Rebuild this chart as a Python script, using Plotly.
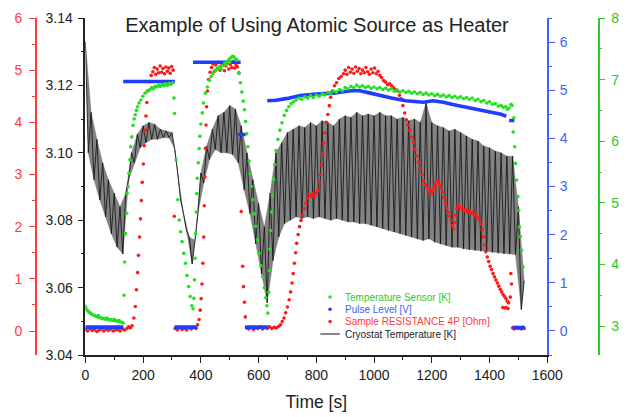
import plotly.graph_objects as go

# ---------------- data ----------------
# Cryostat temperature [K]: the signal oscillates quickly; upper and lower turning points
cryo_hi_time = list(range(0, 1521, 20))
cryo_hi = [3.133, 3.112, 3.104, 3.097, 3.092, 3.088, 3.084, 3.088, 3.100, 3.1055,
           3.108, 3.109, 3.1085, 3.107, 3.1065, 3.106, 3.094, 3.082, 3.075, 3.074,
           3.094, 3.102, 3.107, 3.111, 3.112, 3.114, 3.113, 3.108, 3.100, 3.092,
           3.085, 3.078,
           3.088, 3.100, 3.103, 3.106, 3.107, 3.108, 3.1075, 3.109, 3.108, 3.1095,
           3.109, 3.108, 3.110, 3.111, 3.1105, 3.112, 3.111, 3.1115, 3.111, 3.112,
           3.111, 3.111, 3.110, 3.1105, 3.1095, 3.110, 3.109, 3.1148, 3.109, 3.108,
           3.1075, 3.1065, 3.107, 3.106, 3.105, 3.104, 3.1035, 3.102, 3.1015, 3.1005,
           3.100, 3.099, 3.099, 3.084, 3.062]
cryo_lo_time = list(range(10, 1511, 20))
cryo_lo = [3.100, 3.092, 3.086, 3.081, 3.076, 3.072, 3.070, 3.092, 3.097, 3.1015,
           3.103, 3.104, 3.104, 3.1045, 3.1045, 3.101, 3.086, 3.077, 3.067, 3.082,
           3.091, 3.098, 3.101, 3.100, 3.100, 3.0995, 3.097, 3.089, 3.082, 3.073,
           3.064, 3.0555,
           3.068, 3.075, 3.079, 3.080, 3.081, 3.0805, 3.081, 3.0805, 3.081, 3.0805,
           3.080, 3.0805, 3.080, 3.0795, 3.0795, 3.079, 3.079, 3.0785, 3.078, 3.0775,
           3.077, 3.0765, 3.076, 3.0755, 3.075, 3.0745, 3.074, 3.0745, 3.0735, 3.073,
           3.0725, 3.072, 3.072, 3.0715, 3.0712, 3.071, 3.0708, 3.0706, 3.0704, 3.0702,
           3.070, 3.070, 3.0698, 3.0535]

# Sample resistance 4P [Ohm]
res_time = [0, 8, 16, 24, 32, 40, 48, 56, 64, 72, 80, 88, 96, 104, 112, 120, 128, 136, 144, 150, 156, 162,
            168, 173, 177, 181, 184, 188, 191, 194, 197, 201, 204, 207, 210, 213, 217, 222, 228,
            234, 239, 244, 249, 254, 259, 264, 269, 274, 279, 284, 289, 294, 299, 304, 308,
            311, 319, 327, 335, 343, 351, 359, 367, 375, 383, 389,
            394, 398, 401, 404, 407, 410, 412, 414, 416, 418, 420, 423, 427, 432,
            437, 442, 447, 452, 457, 462, 467, 472, 477, 482, 487, 492, 497, 502, 507, 512, 517, 522, 527, 532,
            540, 545, 548, 551, 554,
            558, 566, 574, 582, 590, 598, 606, 614, 622, 630, 638, 646, 654, 662, 670, 676,
            682, 688, 694, 700, 706, 711, 716, 720, 724, 728, 732, 737, 742, 747, 752, 758, 764, 770, 776, 782,
            788, 794, 800, 806, 810, 814, 818, 822, 826, 830, 835, 840, 845, 850, 856, 863, 870, 878, 886, 894,
            900, 906, 912, 918, 924, 930, 936, 942, 948, 954, 960, 966, 972, 978, 984, 990, 996, 1002, 1008, 1014, 1020, 1026,
            1033, 1040, 1047, 1054, 1061, 1068, 1075, 1082, 1088, 1094,
            1100, 1106, 1112, 1118, 1124, 1130, 1136, 1142, 1148, 1154,
            1160, 1166, 1172, 1178, 1184, 1190, 1196, 1200, 1204, 1208,
            1213, 1218, 1222, 1227, 1232, 1237, 1242, 1247, 1252, 1257,
            1262, 1267, 1271, 1275, 1279, 1283, 1287, 1291, 1296, 1301,
            1306, 1312, 1318, 1324, 1330, 1336, 1342, 1348, 1354, 1360,
            1365, 1370, 1375, 1379, 1383, 1387, 1392, 1397, 1402, 1407,
            1412, 1417, 1422, 1427, 1432, 1437, 1442, 1447, 1452, 1457,
            1462, 1466,
            1446, 1452, 1458, 1464, 1472, 1474, 1476,
            1480, 1486, 1492, 1498, 1504, 1510, 1516, 1520]
res_value = [0.03, 0.00, 0.04, 0.01, 0.03, -0.01, 0.02, 0.04, 0.00, 0.03, 0.01, 0.04, 0.00, 0.02, 0.03, 0.00, 0.04, 0.02, 0.05, 0.08, 0.06, 0.10,
             0.25, 0.47, 0.79, 1.12, 1.45, 1.80, 2.15, 2.50, 2.85, 3.20, 3.55, 3.85, 4.12, 4.38, 4.60, 4.78, 4.90,
             4.97, 5.05, 4.92, 5.02, 4.95, 5.08, 4.96, 5.03, 4.93, 5.06, 4.98, 5.04, 4.94, 5.07, 5.00, 2.20,
             0.05, 0.02, 0.06, 0.03, 0.05, 0.02, 0.06, 0.04, 0.07, 0.05, 0.12,
             0.22, 0.40, 0.62, 0.90, 1.30, 1.80, 2.40, 2.95, 3.50, 3.95, 4.30, 4.60, 4.82, 4.96,
             5.05, 5.12, 4.98, 5.10, 5.03, 5.15, 5.00, 5.09, 5.13, 4.99, 5.08, 5.14, 5.02, 5.11, 5.05, 5.16, 5.04, 5.10, 5.06, 4.95,
             2.29, 1.24, 0.85, 0.55, 0.27,
             0.06, 0.04, 0.07, 0.03, 0.06, 0.05, 0.08, 0.04, 0.07, 0.05, 0.08, 0.05, 0.07, 0.06, 0.09, 0.12,
             0.18, 0.25, 0.35, 0.46, 0.60, 0.75, 0.92, 1.10, 1.30, 1.50, 1.68, 1.85, 2.00, 2.12, 2.22, 2.35, 2.45, 2.55, 2.62, 2.58,
             2.63, 2.57, 2.64, 2.70, 2.84, 3.00, 3.18, 3.40, 3.60, 3.80, 4.00, 4.15, 4.32, 4.48, 4.60, 4.70, 4.76, 4.84, 4.88, 4.93,
             5.00, 4.92, 5.05, 4.96, 5.02, 4.94, 5.06, 4.98, 5.03, 4.93, 5.00, 4.95, 5.05, 4.97, 4.92, 5.02, 4.95, 5.04, 4.93, 4.98, 4.90, 4.86,
             4.80, 4.77, 4.72, 4.74, 4.70, 4.66, 4.63, 4.60, 4.52, 4.45,
             4.32, 4.18, 4.05, 3.95, 3.85, 3.72, 3.62, 3.48, 3.36, 3.24,
             3.12, 3.00, 2.88, 2.80, 2.74, 2.70, 2.66, 2.64, 2.70, 2.76,
             2.82, 2.88, 2.86, 2.80, 2.74, 2.66, 2.56, 2.45, 2.35, 2.27,
             2.20, 2.12, 2.02, 1.96, 2.08, 2.22, 2.35, 2.42, 2.38, 2.34,
             2.36, 2.31, 2.33, 2.28, 2.30, 2.26, 2.27, 2.22, 2.24, 2.18,
             2.12, 2.05, 1.94, 1.80, 1.65, 1.52, 1.42, 1.33, 1.24, 1.18,
             1.10, 1.04, 0.98, 0.92, 0.86, 0.80, 0.75, 0.70, 0.66, 0.62,
             0.57, 0.54,
             0.45, 0.44, 0.45, 0.43, 0.65, 1.10, 0.90,
             0.06, 0.04, 0.07, 0.05, 0.06, 0.04, 0.07, 0.05]

# Temperature sensor [K]
sensor_time = ([0, 3, 6, 10, 14, 18, 22, 27, 32, 37, 42, 45, 48, 54, 60, 66, 72, 75, 78, 84,
                90, 96, 100, 102, 108, 114, 117, 120, 126, 131,
                134, 136, 139, 143, 145, 148, 151, 154, 157, 161, 165, 169, 173, 177, 181, 186, 192, 199, 207, 215, 224,
                230, 236, 242, 248, 254, 260, 266, 272, 278, 284, 290, 296, 302,
                307, 309, 314, 320, 325, 330, 335, 341, 347, 352, 358, 363, 369, 373,
                376, 378, 380, 382, 384, 386, 388, 391, 394, 397, 400, 405, 409, 416, 423,
                430, 436, 442, 450, 458, 466, 470, 475, 483, 488, 492, 498, 500, 505, 510, 514, 519, 525,
                532, 537, 542, 547, 551, 555, 559, 563, 567, 571, 575, 580, 585, 590, 596, 602, 608, 614, 620, 625, 629, 632,
                635, 637, 639, 642, 645, 648, 652, 656, 661, 667, 674, 681, 689, 697, 705, 713, 721]
               + list(range(730, 1441, 10))
               + [1448, 1456, 1462, 1468, 1474, 1478, 1484,
                  1482, 1487, 1490, 1494, 1498, 1501, 1504, 1507, 1511, 1516])
sensor_value = [3.32, 3.28, 3.26, 3.24, 3.22, 3.21, 3.19, 3.18, 3.17, 3.16, 3.15, 3.17, 3.14, 3.13, 3.12, 3.12, 3.11, 3.13, 3.11, 3.10,
                3.10, 3.09, 3.11, 3.09, 3.08, 3.08, 3.09, 3.07, 3.06, 3.05,
                3.50, 4.04, 4.50, 4.83, 5.15, 5.26, 5.48, 5.70, 5.91, 6.07, 6.26, 6.36, 6.43, 6.50, 6.56, 6.62, 6.67, 6.73, 6.78, 6.82, 6.84,
                6.87, 6.85, 6.89, 6.88, 6.91, 6.89, 6.92, 6.90, 6.93, 6.91, 6.94, 6.92, 6.95,
                6.70, 6.45, 5.70, 5.05, 4.72, 4.53, 4.37, 4.18, 4.02, 3.82, 3.64, 3.48, 3.33, 3.28,
                3.45, 3.75, 4.10, 4.50, 4.85, 5.15, 5.40, 5.65, 5.88, 6.08, 6.28, 6.46, 6.62, 6.78, 6.88,
                6.99, 7.05, 7.10, 7.15, 7.18, 7.21, 7.17, 7.23, 7.27, 7.24, 7.29, 7.33, 7.28, 7.36, 7.38, 7.37, 7.34, 7.32,
                7.10, 6.95, 6.80, 6.65, 6.51, 6.32, 6.12, 5.91, 5.68, 5.47, 5.27, 5.05, 4.82, 4.62, 4.40, 4.18, 3.98, 3.80, 3.62, 3.46, 3.33, 3.21,
                3.55, 3.90, 4.25, 4.55, 4.85, 5.12, 5.38, 5.62, 5.85, 6.03, 6.18, 6.30, 6.42, 6.50, 6.56, 6.61, 6.64,
                6.67, 6.70, 6.68, 6.72, 6.70, 6.74, 6.71, 6.75, 6.73, 6.77,
                6.75, 6.79, 6.77, 6.81, 6.80, 6.84, 6.82, 6.87, 6.85, 6.89,
                6.87, 6.91, 6.88, 6.90, 6.87, 6.89, 6.86, 6.88, 6.85, 6.87,
                6.84, 6.86, 6.83, 6.85, 6.81, 6.83, 6.80, 6.82, 6.79, 6.81,
                6.78, 6.80, 6.77, 6.79, 6.76, 6.78, 6.75, 6.77, 6.74, 6.76,
                6.73, 6.75, 6.72, 6.74, 6.71, 6.73, 6.70, 6.72, 6.69, 6.71,
                6.68, 6.70, 6.66, 6.68, 6.64, 6.66, 6.62, 6.64, 6.60, 6.61,
                6.57, 6.58,
                6.55, 6.56, 6.52, 6.54, 6.60, 6.58, 6.38,
                6.15, 5.91, 5.64, 5.37, 5.10, 4.88, 4.61, 4.45, 4.23, 3.96]

# Pulse level [V] (None separates the pulse segments)
pulse_time = [0, 132, None, 131, 310, None, 309, 388, None, 373, 538, None, 528, 556, None, 553, 634, None,
              630, 660, 700, 745, 800, 860, 920, 950, 980, 1020, 1060, 1110, 1170, 1205, 1240, 1285, 1340, 1395, 1440, 1458,
              None, 1468, 1486, None, 1480, 1522]
pulse_value = [0.08, 0.08, None, 5.18, 5.18, None, 0.08, 0.08, None, 5.58, 5.58, None, 4.08, 4.08, None, 0.08, 0.08, None,
               4.78, 4.79, 4.83, 4.89, 4.92, 4.94, 4.99, 4.99, 4.95, 4.89, 4.84, 4.78, 4.75, 4.78, 4.75, 4.69, 4.62, 4.56, 4.50, 4.46,
               None, 4.37, 4.37, None, 0.07, 0.07]

x_ticks = [0, 200, 400, 600, 800, 1000, 1200, 1400, 1600]

legend_names = ["Temperature Sensor [K]", "Pulse Level [V]", "Sample RESISTANCE 4P [Ohm]", "Cryostat Temperature [K]"]

# ---------------- styling ----------------
W, H = 633, 417
FONT = "Liberation Sans, Arial, Helvetica, sans-serif"
BLACK = "#222222"
RED_D, RED_A = "#ff1a1a", "#ff3b3b"
BLUE_D, BLUE_A = "#1f3cff", "#4060ff"
GREEN_D, GREEN_A = "#22e022", "#2ec82e"

# interleave turning points into one polyline
cryo_t, cryo_v = [], []
for i, t in enumerate(cryo_hi_time):
    cryo_t.append(t)
    cryo_v.append(cryo_hi[i])
    if i < len(cryo_lo_time):
        cryo_t.append(cryo_lo_time[i])
        cryo_v.append(cryo_lo[i])

# band swept by the fast oscillation (upper turning points, then lower ones backwards)
band_t = cryo_hi_time + cryo_lo_time[::-1]
band_v = cryo_hi + cryo_lo[::-1]

fig = go.Figure()
fig.add_trace(go.Scatter(x=band_t, y=band_v, mode="lines", yaxis="y", fill="toself",
                         fillcolor="rgba(95,95,95,0.78)", line=dict(color="rgba(110,110,110,0.6)", width=0.6),
                         hoverinfo="skip", showlegend=False))
fig.add_trace(go.Scatter(x=cryo_t, y=cryo_v, mode="lines", yaxis="y",
                         line=dict(color="rgba(15,15,15,0.8)", width=1.0),
                         name=legend_names[3], hoverinfo="skip"))
fig.add_trace(go.Scatter(x=res_time, y=res_value, mode="markers", yaxis="y2",
                         marker=dict(color=RED_D, size=3.6, line=dict(width=0)),
                         name=legend_names[2]))
fig.add_trace(go.Scatter(x=pulse_time, y=pulse_value, mode="lines", yaxis="y3",
                         line=dict(color=BLUE_D, width=3.6), connectgaps=False,
                         name=legend_names[1]))
fig.add_trace(go.Scatter(x=sensor_time, y=sensor_value, mode="markers", yaxis="y4",
                         marker=dict(color=GREEN_D, size=3.6, line=dict(width=0)),
                         name=legend_names[0]))

X0, X1 = 84 / W, 561 / W


def yax(color, tickcolor, rng, dtick, minor, **kw):
    d = dict(range=rng, dtick=dtick, ticks="outside", ticklen=6, tickwidth=1.2,
             tickcolor=color, showline=True, linecolor=color, linewidth=1.5,
             showgrid=False, zeroline=False,
             tickfont=dict(family=FONT, size=14, color=tickcolor),
             minor=dict(dtick=minor, ticks="outside", ticklen=3, tickcolor=color, tickwidth=1.2, showgrid=False))
    d.update(kw)
    return d


fig.update_layout(
    width=W, height=H,
    margin=dict(l=0, r=0, t=18, b=62),
    paper_bgcolor="white", plot_bgcolor="white",
    showlegend=False,
    font=dict(family=FONT, color=BLACK),
    title=dict(text="Example of Using Atomic Source as Heater", x=317 / W, xanchor="center",
               y=1 - 25 / H, yanchor="middle", font=dict(family=FONT, size=20, color=BLACK)),
    xaxis=dict(domain=[X0, X1], range=[0, 1600], tickvals=x_ticks, ticks="outside", ticklen=6,
               tickwidth=1.2, tickcolor=BLACK, showline=True, linecolor=BLACK, linewidth=1.5,
               showgrid=False, zeroline=False, tickfont=dict(family=FONT, size=14, color=BLACK),
               minor=dict(dtick=100, ticks="outside", ticklen=3, tickcolor=BLACK, tickwidth=1.2, showgrid=False),
               title=dict(text="Time [s]", font=dict(family=FONT, size=17.5, color=BLACK), standoff=14)),
    yaxis=yax(BLACK, BLACK, [3.04, 3.14], 0.02, 0.01, tickformat=".2f", side="left", anchor="x",
              ticklabelstandoff=2),
    yaxis2=yax(RED_A, RED_A, [-0.46, 6], 1, 0.5, tick0=0, overlaying="y", anchor="free",
               position=33 / W, side="left", ticklabelstandoff=4),
    yaxis3=yax(BLUE_A, BLUE_A, [-0.5, 6.5], 1, 0.5, tick0=0, overlaying="y", anchor="x", side="right",
               ticklabelstandoff=2),
    yaxis4=yax(GREEN_A, GREEN_A, [2.53, 8], 1, 0.5, tick0=0, overlaying="y", anchor="free",
               position=614 / W, side="right", ticklabelstandoff=3),
)

# legend block (drawn inside the plot, like the original)
leg_rows = [297, 309.3, 321.6, 334]
leg_colors = [GREEN_A, BLUE_A, RED_A, BLACK]
dot_colors = [GREEN_D, BLUE_D, RED_D]


def py(p):
    return (355 - p) / 337


for i, name in enumerate(legend_names):
    fig.add_annotation(x=350 / W, y=py(leg_rows[i]), xref="paper", yref="paper", text=name,
                       showarrow=False, xanchor="left", yanchor="middle",
                       font=dict(family=FONT, size=10, color=leg_colors[i]))
    if i < 3:
        fig.add_shape(type="circle", xref="paper", yref="paper",
                      x0=(336.7 - 1.8) / W, x1=(336.7 + 1.8) / W,
                      y0=py(leg_rows[i] + 1.8), y1=py(leg_rows[i] - 1.8),
                      fillcolor=dot_colors[i], line=dict(width=0))
    else:
        fig.add_shape(type="line", xref="paper", yref="paper",
                      x0=326.7 / W, x1=346.7 / W, y0=py(leg_rows[i]), y1=py(leg_rows[i]),
                      line=dict(color="#888888", width=2))

fig.write_html("out.html")
